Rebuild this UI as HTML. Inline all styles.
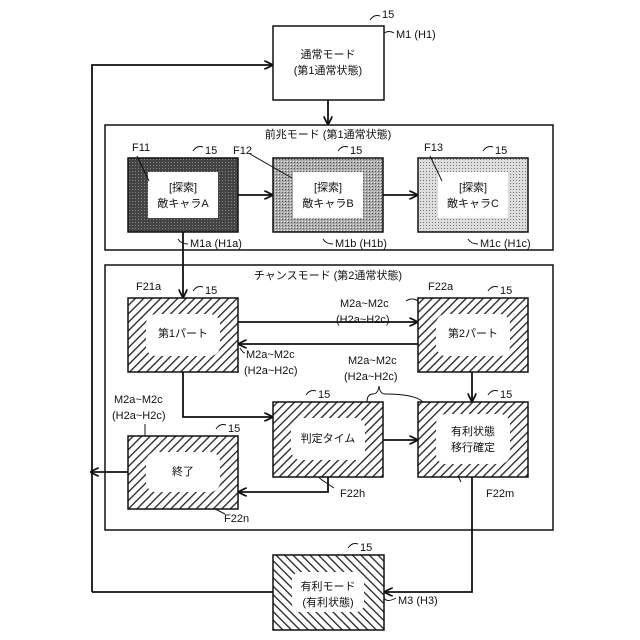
<!DOCTYPE html>
<html><head><meta charset="utf-8"><style>
body{margin:0;background:#fff}
svg{display:block}
text{font-family:"Liberation Sans","Noto Sans CJK JP",sans-serif;font-size:11px;fill:#111}
.m{text-anchor:middle}
</style></head><body>
<svg width="640" height="640" viewBox="0 0 640 640" xmlns="http://www.w3.org/2000/svg">
<defs>
<pattern id="h" patternUnits="userSpaceOnUse" width="6" height="6" patternTransform="rotate(45)">
<rect width="6" height="6" fill="#fff"/><rect width="1.3" height="6" fill="#222"/></pattern>
<pattern id="hb" patternUnits="userSpaceOnUse" width="6" height="6" patternTransform="rotate(-45)">
<rect width="6" height="6" fill="#fff"/><rect width="1.3" height="6" fill="#222"/></pattern>
<pattern id="dA" patternUnits="userSpaceOnUse" width="3" height="3">
<rect width="3" height="3" fill="#444"/><rect width="1" height="1" fill="#888"/></pattern>
<pattern id="dB" patternUnits="userSpaceOnUse" width="3" height="3">
<rect width="3" height="3" fill="#aaa"/><rect width="1" height="1" fill="#555"/><rect x="2" y="2" width="1" height="1" fill="#eee"/></pattern>
<pattern id="dC" patternUnits="userSpaceOnUse" width="3" height="3">
<rect width="3" height="3" fill="#ddd"/><rect width="1" height="1" fill="#777"/></pattern>
<marker id="a" viewBox="0 0 10 10" refX="10" refY="5" markerWidth="9" markerHeight="9" orient="auto" markerUnits="userSpaceOnUse">
<path d="M0,0 L10,5 L0,10" fill="none" stroke="#111" stroke-width="2"/></marker>
</defs>
<g fill="none" stroke="#111" stroke-width="1.5">
<rect x="105" y="125" width="448" height="125"/>
<rect x="105" y="265" width="448" height="265"/>
</g>
<rect x="273" y="26" width="111" height="74" fill="#fff" stroke="#111" stroke-width="1.5"/>
<text class="m" x="328" y="58">通常モード</text><text class="m" x="328" y="74">(第1通常状態)</text>
<text x="382" y="18" font-size="12">15</text><path d="M370,20 q4,-6 10,-4" fill="none" stroke="#111"/>
<text x="396" y="38" font-size="12">M1 (H1)</text><path d="M384,33 q5,-3 10,0" fill="none" stroke="#111"/>
<text class="m" x="328" y="138">前兆モード (第1通常状態)</text>
<text class="m" x="328" y="279">チャンスモード (第2通常状態)</text>
<rect x="128" y="158" width="110" height="74" fill="url(#dA)" stroke="#111" stroke-width="1.5"/>
<rect x="148" y="172" width="70" height="46" fill="#fff"/>
<rect x="273" y="158" width="110" height="74" fill="url(#dB)" stroke="#111" stroke-width="1.5"/>
<rect x="293" y="172" width="70" height="46" fill="#fff"/>
<rect x="418" y="158" width="110" height="74" fill="url(#dC)" stroke="#111" stroke-width="1.5"/>
<rect x="438" y="172" width="70" height="46" fill="#fff"/>
<text class="m" x="183" y="191" font-size="12">[探索]</text><text class="m" x="183" y="207" font-size="12">敵キャラA</text>
<text class="m" x="328" y="191" font-size="12">[探索]</text><text class="m" x="328" y="207" font-size="12">敵キャラB</text>
<text class="m" x="473" y="191" font-size="12">[探索]</text><text class="m" x="473" y="207" font-size="12">敵キャラC</text>
<g font-size="12">
<text x="132" y="151">F11</text><text x="205" y="154">15</text>
<text x="233" y="154">F12</text><text x="350" y="154">15</text>
<text x="424" y="151">F13</text><text x="495" y="154">15</text>
<text x="190" y="247">M1a (H1a)</text><text x="335" y="247">M1b (H1b)</text><text x="480" y="247">M1c (H1c)</text>
<text x="136" y="290">F21a</text><text x="205" y="294">15</text>
<text x="428" y="290">F22a</text><text x="500" y="294">15</text>
<text x="340" y="307">M2a~M2c</text><text x="336" y="323">(H2a~H2c)</text>
<text x="246" y="358">M2a~M2c</text><text x="244" y="374">(H2a~H2c)</text>
<text x="348" y="364">M2a~M2c</text><text x="344" y="380">(H2a~H2c)</text>
<text x="114" y="403">M2a~M2c</text><text x="112" y="419">(H2a~H2c)</text>
<text x="318" y="398">15</text><text x="500" y="398">15</text><text x="228" y="432">15</text>
<text x="340" y="497">F22h</text><text x="486" y="497">F22m</text><text x="224" y="522">F22n</text>
<text x="360" y="551">15</text><text x="398" y="604">M3 (H3)</text>
</g>
<g fill="none" stroke="#111" stroke-width="1">
<path d="M137,156 l12,25"/><path d="M250,154 l42,24"/><path d="M430,156 l12,25"/>
<path d="M193,151 q4,-6 10,-4"/><path d="M338,151 q4,-6 10,-4"/><path d="M483,151 q4,-6 10,-4"/>
<path d="M178,239 q3,5 10,5"/><path d="M323,239 q3,5 10,5"/><path d="M468,239 q3,5 10,5"/>
<path d="M193,291 q4,-6 10,-4"/><path d="M488,291 q4,-6 10,-4"/><path d="M306,395 q4,-6 10,-4"/><path d="M488,395 q4,-6 10,-4"/><path d="M216,429 q4,-6 10,-4"/><path d="M348,548 q4,-6 10,-4"/>
<path d="M406,301 q6,-4 12,0"/><path d="M240,348 q3,5 5,5"/>
<path d="M367,402 q0,-8 6,-8 q5,0 6,-8 q1,8 6,8 q30,0 38,8"/>
<path d="M145,436 l0,-12"/>
<path d="M384,598 q3,5 12,0"/>
<path d="M445,460 l10,10 l6,12"/><path d="M307,468 l15,12 l12,8"/><path d="M200,495 l15,14 l10,5"/>
</g>
<g stroke="#111" stroke-width="1.5">
<rect x="128" y="298" width="110" height="74" fill="url(#h)"/>
<rect x="418" y="298" width="110" height="74" fill="url(#h)"/>
<rect x="273" y="402" width="110" height="75" fill="url(#h)"/>
<rect x="418" y="402" width="110" height="75" fill="url(#h)"/>
<rect x="128" y="436" width="110" height="73" fill="url(#h)"/>
<rect x="273" y="555" width="111" height="75" fill="url(#hb)"/>
</g>
<g fill="#fff">
<rect x="146" y="314" width="74" height="42" rx="10"/>
<rect x="436" y="314" width="74" height="42" rx="10"/>
<rect x="291" y="418" width="74" height="42" rx="10"/>
<rect x="436" y="414" width="74" height="50" rx="10"/>
<rect x="146" y="452" width="74" height="40" rx="10"/>
<rect x="292" y="572" width="72" height="40" rx="8"/>
</g>
<text class="m" x="183" y="337">第1パート</text>
<text class="m" x="473" y="337">第2パート</text>
<text class="m" x="328" y="442">判定タイム</text>
<text class="m" x="473" y="435">有利状態</text><text class="m" x="473" y="451">移行確定</text>
<text class="m" x="183" y="475">終了</text>
<text class="m" x="328" y="590">有利モード</text><text class="m" x="328" y="606">(有利状態)</text>
<g fill="none" stroke="#111" stroke-width="1.8" marker-end="url(#a)">
<path d="M92,592 L92,65 L273,65"/>
<path d="M328,100 L328,125"/>
<path d="M238,195 L273,195"/><path d="M383,195 L418,195"/>
<path d="M183,232 L183,298"/>
<path d="M238,322 L418,322"/><path d="M418,344 L238,344"/>
<path d="M183,372 L183,417 L273,417"/>
<path d="M472,372 L472,402"/>
<path d="M383,440 L418,440"/>
<path d="M328,477 L328,492 L238,492"/>
<path d="M128,472 L90,472"/>
<path d="M472,477 L472,592 L384,592"/>
</g>
<path d="M273,592 L92,592" stroke="#111" stroke-width="1.8"/>
</svg>
</body></html>
